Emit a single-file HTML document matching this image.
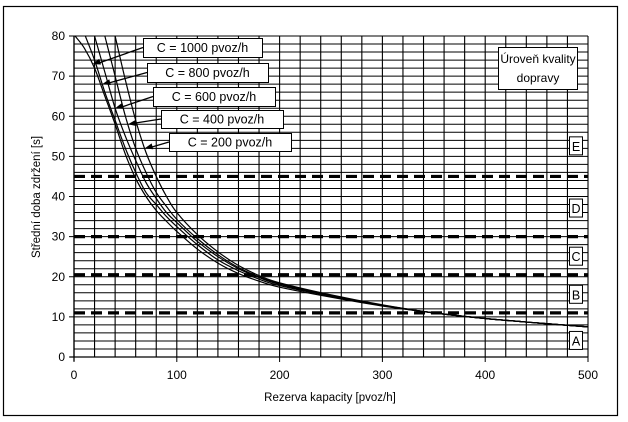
<!DOCTYPE html>
<html><head><meta charset="utf-8"><style>
body{margin:0;background:#fff;}
svg{display:block;font-family:"Liberation Sans","DejaVu Sans",sans-serif;}
</style></head><body>
<svg id="chart" width="628" height="422" viewBox="0 0 628 422">
<rect x="3.5" y="6.5" width="614" height="409" fill="#fff" stroke="#000" stroke-width="1.2"/>
<g id="grid"></g>
<g id="dashes"></g>
<g id="curves"></g>
<g id="axes"></g>
<g id="labels"></g>
<g>
<rect x="498.5" y="47.5" width="79" height="42" fill="#fff" stroke="#000"/>
<text x="538" y="63" font-size="12" text-anchor="middle">Úroveň kvality</text>
<text x="538" y="82" font-size="12" text-anchor="middle">dopravy</text>
</g>
<g id="los"></g>
<text x="330" y="401" font-size="11.5" text-anchor="middle">Rezerva kapacity [pvoz/h]</text>
<text transform="translate(40,197) rotate(-90)" font-size="11.5" text-anchor="middle">Střední doba zdržení [s]</text>
</svg>
<script>
const xTicks=[0,100,200,300,400,500];
const yTicks=[0,10,20,30,40,50,60,70,80];
const thresholds=[45,30,20.5,11];
const losLetters=["E","D","C","B","A"];
const losLevels=[52.5,37,25,15.5,4];
const capLabels=["C = 1000 pvoz/h","C = 800 pvoz/h","C = 600 pvoz/h","C = 400 pvoz/h","C = 200 pvoz/h"];
const tail=[250,300,350,400,450,500];
const c1000x=[1,10,20,30,40,50,60,70,80,90,100,120,140,160,180,200,250,300,350,400,450,500];
const c1000y=[80,77,72,65,58,50.5,44.5,40,36.5,33.8,31.3,26.9,23.4,20.8,18.9,17.4,14.9,12.7,11,9.6,8.5,7.5];
const c800x=[11,20,30,40,50,60,70,80,90,100,120,140,160,180,200,250,300,350,400,450,500];
const c800y=[80,74,66,59,52,46,41,38,35,32.5,28,24.2,21.5,19.4,17.8,15.1,12.8,11,9.6,8.5,7.5];
const c600x=[20,30,40,50,60,70,80,90,100,120,140,160,180,200,250,300,350,400,450,500];
const c600y=[80,71,62,55,49,43.5,39.5,36,33.5,28.8,25,22,19.8,18.1,15.2,12.9,11,9.6,8.5,7.5];
const c400x=[30,40,50,60,70,80,90,100,120,140,160,180,200,250,300,350,400,450,500];
const c400y=[80,70,60,52,46,41,37.5,34.3,29.5,25.5,22.3,20,18.3,15.4,12.9,11,9.6,8.5,7.5];
const c200x=[40,50,60,70,80,90,100,120,140,160,180,200,250,300,350,400,450,500];
const c200y=[80,69,59,51,45,40,36,30.5,26.2,22.8,20.3,18.5,15.5,13,11,9.6,8.5,7.5];

const X0=74,X1=588,Y0=357,Y1=36;
const sx=v=>X0+(v/500)*(X1-X0);
const sy=v=>Y0-(v/80)*(Y0-Y1);
const NS="http://www.w3.org/2000/svg";
function mk(tag,attrs,parent){const e=document.createElementNS(NS,tag);for(const k in attrs)e.setAttribute(k,attrs[k]);parent.appendChild(e);return e;}
const grid=document.getElementById('grid');
for(let v=0;v<=500;v+=20){
 const l=mk('line',{x1:sx(v),x2:sx(v),y1:Y1,y2:Y0,stroke:'#000','stroke-width':1.1},grid);
 
 
}
for(let v=0;v<=80;v+=2){
 const l=mk('line',{x1:X0,x2:X1,y1:sy(v),y2:sy(v),stroke:'#000','stroke-width':1},grid);
 
 
}
const dashes=document.getElementById('dashes');
thresholds.forEach(t=>{
 const l=mk('line',{x1:X0,x2:X1,y1:sy(t),y2:sy(t),stroke:'#000','stroke-width':3.2,'stroke-dasharray':'11,6'},dashes);
 
 
});
const axes=document.getElementById('axes');
mk('line',{x1:X0,x2:X0,y1:Y1,y2:Y0+4,stroke:'#000','stroke-width':1.3},axes);
mk('line',{x1:X0-4,x2:X1,y1:Y0,y2:Y0,stroke:'#000','stroke-width':1.3},axes);
xTicks.forEach(v=>{
 mk('line',{x1:sx(v),x2:sx(v),y1:Y0,y2:Y0+5,stroke:'#000'},axes);
 const t=mk('text',{x:sx(v),y:Y0+22,'font-size':12,'text-anchor':'middle'},axes);t.textContent=v;
 
 
});
yTicks.forEach(v=>{
 mk('line',{x1:X0-5,x2:X0,y1:sy(v),y2:sy(v),stroke:'#000'},axes);
 const t=mk('text',{x:X0-9,y:sy(v)+4,'font-size':12,'text-anchor':'end'},axes);t.textContent=v;
 
 
});
function smooth(xs,ys){
 const p=xs.map((x,i)=>[sx(x),sy(ys[i])]);
 let d=`M${p[0][0]},${p[0][1]}`;
 for(let i=0;i<p.length-1;i++){
  const p0=p[i-1]||p[i],p1=p[i],p2=p[i+1],p3=p[i+2]||p2;
  const c1=[p1[0]+(p2[0]-p0[0])/6,p1[1]+(p2[1]-p0[1])/6];
  const c2=[p2[0]-(p3[0]-p1[0])/6,p2[1]-(p3[1]-p1[1])/6];
  d+=`C${c1[0]},${c1[1]} ${c2[0]},${c2[1]} ${p2[0]},${p2[1]}`;
 }
 return d;
}
const curves=document.getElementById('curves');
const series=[[c1000x,c1000y],[c800x,c800y],[c600x,c600y],[c400x,c400y],[c200x,c200y]];
const cnames=['curve-c1000','curve-c800','curve-c600','curve-c400','curve-c200'];
series.forEach((s,i)=>{
 const p=mk('path',{d:smooth(s[0],s[1]),fill:'none',stroke:'#000','stroke-width':1.2},curves);
 
 
});
const labels=document.getElementById('labels');
const boxes=[[143,38,119,19],[147,63,121,19],[153,87,122,19],[161,110,122,18],[169,133,122,18]];
const arrowY=[73,68,62,58,52];
series.forEach((s,i)=>{
 const b=boxes[i];
 // find x on curve at arrowY
 const xs=s[0],ys=s[1];let xv=xs[0];
 for(let k=0;k<ys.length-1;k++){if(ys[k]>=arrowY[i]&&ys[k+1]<=arrowY[i]){xv=xs[k]+(xs[k+1]-xs[k])*(ys[k]-arrowY[i])/(ys[k]-ys[k+1]);break;}}
 const tx=sx(xv),ty=sy(arrowY[i]),fx=b[0],fy=b[1]+b[3]/2;
 mk('line',{x1:fx,y1:fy,x2:tx+6,y2:ty-1,stroke:'#000','stroke-width':1.3},labels);
 const ang=Math.atan2(ty-fy,tx-fx);
 const hx=tx-8*Math.cos(ang),hy=ty-8*Math.sin(ang);
 mk('polygon',{points:`${tx},${ty} ${hx-3*Math.sin(ang)},${hy+3*Math.cos(ang)} ${hx+3*Math.sin(ang)},${hy-3*Math.cos(ang)}`,fill:'#000'},labels);
 mk('rect',{x:b[0]+.5,y:b[1]+.5,width:b[2],height:b[3],fill:'#fff',stroke:'#000'},labels);
 const t=mk('text',{x:b[0]+b[2]/2,y:b[1]+b[3]/2+4.5,'font-size':12.5,'text-anchor':'middle'},labels);
 t.textContent=capLabels[i];
 
 
});
const los=document.getElementById('los');
losLetters.forEach((L,i)=>{
 const cy=sy(losLevels[i]);
 mk('rect',{x:569.5,y:cy-9.5,width:13,height:18,fill:'#fff',stroke:'#000'},los);
 const t=mk('text',{x:576,y:cy+4.5,'font-size':12.5,'text-anchor':'middle'},los);
 t.textContent=L;
 
 
});
</script>
</body></html>
